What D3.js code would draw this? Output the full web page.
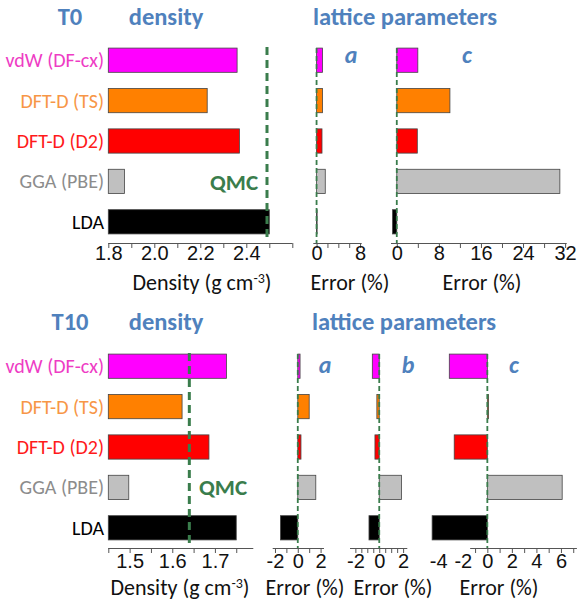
<!DOCTYPE html>
<html>
<head>
<meta charset="utf-8">
<style>
  body { margin: 0; background: #fff; }
  svg { font-family: Carlito, Lato, "Open Sans", sans-serif; }
  .axis .domain { stroke: #555; stroke-width: 1; fill: none; }
  .axis .tick line { stroke: #555; }
  .axis .tick text { fill: #111; font-size: 20px; }
  .ttl { fill: #4f81bd; font-weight: bold; font-size: 24.5px; }
  .sub { fill: #4f81bd; font-weight: bold; font-style: italic; font-size: 24px; }
  .xt { fill: #111; font-size: 22px; }
  .lab { font-size: 20px; }
</style>
<script src="https://d3js.org/d3.v7.min.js"></script>
</head>
<body>
<script>
// methods (top to bottom)
var methods = ["vdW (DF-cx)", "DFT-D (TS)", "DFT-D (D2)", "GGA (PBE)", "LDA"];

// T0
var t0Density = [2.36, 2.23, 2.37, 1.87, 2.50];
var t0Qmc = 2.49;
var t0ErrA = [1.1, 1.1, 1.0, 1.6, 0.1];
var t0ErrC = [4.0, 10.1, 3.9, 31.0, -0.8];

// T10
var t10Density = [1.727, 1.623, 1.686, 1.498, 1.750];
var t10Qmc = 1.640;
var t10ErrA = [0.2, 1.0, 0.28, 1.58, -1.52];
var t10ErrB = [-0.58, -0.2, -0.36, 1.86, -0.86];
var t10ErrC = [-3.1, 0.1, -2.7, 6.1, -4.5];

// tick labels
var t0DensTicks = [1.8, 2.0, 2.2, 2.4];
var t0ATicks = [0, 8];
var t0CTicks = [0, 8, 16, 24, 32];
var t10DensTicks = [1.5, 1.6, 1.7];
var t10ATicks = [-2, 0, 2];
var t10BTicks = [-2, 0, 2];
var t10CTicks = [-4, -2, 0, 2, 4, 6];

var fillCol = ["#ff00ff", "#ff8000", "#ff0000", "#c0c0c0", "#000000"];
var textCol = ["#ee3cc4", "#f79646", "#ff1a1a", "#8c8c8c", "#000000"];
var green = "#3a7d4c";

var svg = d3.select("body").append("svg")
    .attr("width", 578).attr("height", 608);

function minorTicks(lo, hi, step) {
  return d3.range(Math.round(lo / step), Math.round(hi / step) + 1).map(function(i) { return +(i * step).toFixed(4); });
}

function panel(o) {
  var x = d3.scaleLinear().domain(o.domain).range(o.range);
  var y = o.y;
  var g = svg.append("g");
  var base = o.density ? o.domain[0] : 0;

  g.selectAll("rect").data(o.values).enter().append("rect")
      .attr("x", function(d) { return x(Math.min(base, d)); })
      .attr("y", function(d, i) { return y(methods[i]); })
      .attr("width", function(d) { return Math.abs(x(d) - x(base)); })
      .attr("height", y.bandwidth())
      .attr("fill", function(d, i) { return fillCol[i]; })
      .attr("stroke", "#444")
      .attr("stroke-width", 0.8);

  var axisY = o.axisY;
  var lineMin = o.lineMin != null ? o.lineMin : o.domain[0];
  var minors = minorTicks(lineMin, o.domain[1], o.minor).filter(function(v) { return v >= lineMin - 1e-9 && v <= o.domain[1] + 1e-9; });

  // minor/major tick marks
  g.append("g").attr("class", "axis")
      .attr("transform", "translate(0," + axisY + ")")
      .call(d3.axisBottom(x).tickValues(minors).tickSize(5).tickSizeOuter(0).tickFormat(""))
      .select(".domain").remove();
  g.append("line")
      .attr("x1", x(lineMin)).attr("x2", x(o.domain[1]))
      .attr("y1", axisY + 0.5).attr("y2", axisY + 0.5)
      .attr("stroke", "#555");
  // labels
  var lab = g.append("g").attr("class", "axis")
      .attr("transform", "translate(0," + axisY + ")")
      .call(d3.axisBottom(x).tickValues(o.ticks).tickSize(0).tickPadding(o.pad).tickFormat(o.fmt));
  lab.select(".domain").remove();

  // reference line
  var rv = o.density ? o.qmc : 0;
  g.append("line")
      .attr("x1", x(rv)).attr("x2", x(rv))
      .attr("y1", y(methods[0]) - o.lineTop).attr("y2", axisY + (o.density ? -2 : 0))
      .attr("stroke", green)
      .attr("stroke-width", o.density ? 3 : 1.8)
      .attr("stroke-dasharray", o.density ? "8,5" : "5,3");

  g.append("text").attr("class", "xt")
      .attr("x", o.titleX).attr("y", axisY + 47)
      .attr("text-anchor", "middle")
      .text(o.title);
  if (o.density) {
    g.select("text.xt").text("Density (g cm")
      .append("tspan").attr("dy", -7).style("font-size", "14px").text("-3");
    g.select("text.xt").append("tspan").attr("dy", 7).text(")");
    g.append("text")
        .attr("x", o.qmcX).attr("y", o.qmcY)
        .attr("fill", green).attr("font-weight", "bold").attr("font-size", 23)
        .text("QMC");
    g.selectAll("text.lab").data(methods).enter().append("text")
        .attr("class", "lab")
        .attr("x", 104)
        .attr("y", function(d) { return y(d) + y.bandwidth() / 2; })
        .attr("dy", "0.35em")
        .attr("text-anchor", "end")
        .attr("fill", function(d, i) { return textCol[i]; })
        .text(function(d) { return d; });
  }
  if (o.sub) {
    g.append("text").attr("class", "sub")
        .attr("x", o.subX).attr("y", o.subY)
        .attr("text-anchor", "middle").text(o.sub);
  }
}

// ---- T0 ----
var yTop = d3.scaleBand().domain(methods).range([40, 242]).paddingInner(0.4).paddingOuter(0.2);
svg.append("text").attr("class", "ttl").attr("x", 70).attr("y", 25).attr("text-anchor", "middle").text("T0");
svg.append("text").attr("class", "ttl").attr("x", 166).attr("y", 25).attr("text-anchor", "middle").text("density");
svg.append("text").attr("class", "ttl").attr("x", 405).attr("y", 25).attr("text-anchor", "middle").text("lattice parameters");

var f1 = d3.format(".1f");
var f0 = function(d) { return String(d); };

panel({ density: true, values: t0Density, qmc: t0Qmc, domain: [1.8, 2.6], range: [108.3, 292.3],
  ticks: t0DensTicks, minor: 0.1, fmt: f1, y: yTop, axisY: 243, pad: 3, lineTop: 1,
  titleX: 202, qmcX: 210, qmcY: 190 });
panel({ values: t0ErrA, domain: [-0.6, 8.3], range: [313.3, 361.7],
  ticks: t0ATicks, minor: 2, fmt: f0, y: yTop, axisY: 243, pad: 3, lineTop: 0,
  title: "Error (%)", titleX: 350, sub: "a", subX: 351, subY: 63 });
panel({ values: t0ErrC, domain: [-1.1, 32.3], range: [391, 566.7],
  ticks: t0CTicks, minor: 4, fmt: f0, y: yTop, axisY: 243, pad: 3, lineTop: 0,
  title: "Error (%)", titleX: 482, sub: "c", subX: 467, subY: 63 });

// ---- T10 ----
var yBot = d3.scaleBand().domain(methods).range([346, 548]).paddingInner(0.4).paddingOuter(0.2);
svg.append("text").attr("class", "ttl").attr("x", 70).attr("y", 330).attr("text-anchor", "middle").text("T10");
svg.append("text").attr("class", "ttl").attr("x", 166).attr("y", 330).attr("text-anchor", "middle").text("density");
svg.append("text").attr("class", "ttl").attr("x", 404).attr("y", 330).attr("text-anchor", "middle").text("lattice parameters");

panel({ density: true, values: t10Density, qmc: t10Qmc, domain: [1.45, 1.79], range: [108.3, 253.3],
  ticks: t10DensTicks, minor: 0.05, fmt: f1, y: yBot, axisY: 548, pad: 6, lineTop: 1,
  titleX: 180, qmcX: 199, qmcY: 495 });
panel({ values: t10ErrA, domain: [-2.2, 2.3], range: [272.7, 324],
  ticks: t10ATicks, minor: 1, fmt: f0, y: yBot, axisY: 548, pad: 6, lineTop: 0,
  title: "Error (%)", titleX: 305, sub: "a", subX: 325, subY: 373 });
panel({ values: t10ErrB, domain: [-2.45, 2.35], range: [350, 407.3],
  ticks: t10BTicks, minor: 0.5, fmt: f0, y: yBot, axisY: 548, pad: 6, lineTop: 0,
  title: "Error (%)", titleX: 393, sub: "b", subX: 408, subY: 373 });
panel({ values: t10ErrC, domain: [-4.6, 7.3], lineMin: -1.4, range: [430.9, 576.9],
  ticks: t10CTicks, minor: 1, fmt: f0, y: yBot, axisY: 548, pad: 6, lineTop: 0,
  title: "Error (%)", titleX: 499, sub: "c", subX: 514, subY: 373 });
</script>
</body>
</html>
